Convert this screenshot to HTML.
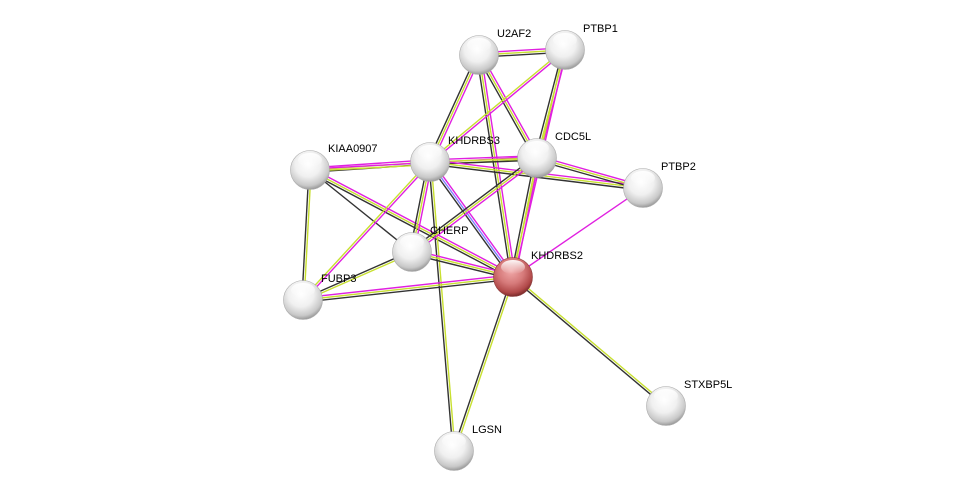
<!DOCTYPE html>
<html><head><meta charset="utf-8"><style>
html,body{margin:0;padding:0;background:#fff;}
svg{display:block;}
text{font-family:"Liberation Sans",sans-serif;font-size:11px;fill:#000;}
</style></head><body>
<svg id="s" width="976" height="496" viewBox="0 0 976 496" xmlns="http://www.w3.org/2000/svg">
<defs>
<radialGradient id="gw" cx="45%" cy="35%" r="65%">
<stop offset="0" stop-color="#ffffff"/><stop offset="0.5" stop-color="#f0f0f0"/><stop offset="0.85" stop-color="#c8c8c8"/><stop offset="1" stop-color="#9a9a9a"/>
</radialGradient>
<radialGradient id="gr" cx="45%" cy="35%" r="65%">
<stop offset="0" stop-color="#f0a8a8"/><stop offset="0.5" stop-color="#d67a7a"/><stop offset="0.85" stop-color="#b04848"/><stop offset="1" stop-color="#7a2a2a"/>
</radialGradient>
<linearGradient id="hl" x1="0" y1="0" x2="0" y2="1">
<stop offset="0" stop-color="#fff" stop-opacity="0.95"/><stop offset="1" stop-color="#fff" stop-opacity="0"/>
</linearGradient>
</defs>
<g id="edges"></g>
<g id="nodes"></g>
</svg>
<script>
var N={U2AF2:[479,55],PTBP1:[565,50],KIAA0907:[310,170],KHDRBS3:[430,162],CDC5L:[537,158],PTBP2:[643,188],CHERP:[412,252],KHDRBS2:[513,277],FUBP3:[303,300],STXBP5L:[666,406],LGSN:[454,451]};
var M="#e020e0",Y="#c8e030",K="#333333",B="#8080ff";
var E=[["U2AF2","PTBP1",[M,Y,K]],["U2AF2","KHDRBS3",[M,Y,K]],["U2AF2","CDC5L",[M,Y,K]],["U2AF2","KHDRBS2",[M,Y,K]],
["PTBP1","KHDRBS3",[M,Y]],["PTBP1","CDC5L",[M,Y,K]],["PTBP1","KHDRBS2",[M,Y]],
["KIAA0907","KHDRBS3",[M,Y,K]],["KIAA0907","CDC5L",[M,Y]],["KIAA0907","KHDRBS2",[M,Y,K]],["KIAA0907","FUBP3",[Y,K]],["KIAA0907","CHERP",[K]],
["KHDRBS3","CDC5L",[M,Y,K]],["KHDRBS3","PTBP2",[M,Y,K]],["KHDRBS3","CHERP",[M,Y,K]],["KHDRBS3","KHDRBS2",[M,B,K]],["KHDRBS3","FUBP3",[M,Y]],["KHDRBS3","LGSN",[Y,K]],
["CDC5L","PTBP2",[M,Y,K]],["CDC5L","CHERP",[M,Y,K]],["CDC5L","KHDRBS2",[M,Y,K]],["PTBP2","KHDRBS2",[M]],
["CHERP","KHDRBS2",[M,Y,K]],["CHERP","FUBP3",[Y,K]],["FUBP3","KHDRBS2",[M,Y,K]],["KHDRBS2","STXBP5L",[Y,K]],["KHDRBS2","LGSN",[Y,K]]];
var ns="http://www.w3.org/2000/svg",eg=document.getElementById("edges"),ng=document.getElementById("nodes");
E.forEach(function(e){var a=N[e[0]],b=N[e[1]],dx=b[0]-a[0],dy=b[1]-a[1],L=Math.hypot(dx,dy),px=-dy/L,py=dx/L,n=e[2].length;
e[2].forEach(function(c,i){var o=(i-(n-1)/2)*2.2;var l=document.createElementNS(ns,"line");
l.setAttribute("x1",a[0]+px*o);l.setAttribute("y1",a[1]+py*o);l.setAttribute("x2",b[0]+px*o);l.setAttribute("y2",b[1]+py*o);
l.setAttribute("stroke",c);l.setAttribute("stroke-width","1.4");eg.appendChild(l);});});
for(var k in N){var p=N[k],c=document.createElementNS(ns,"circle");
c.setAttribute("cx",p[0]);c.setAttribute("cy",p[1]);c.setAttribute("r",19.5);c.setAttribute("fill",k=="KHDRBS2"?"url(#gr)":"url(#gw)");
c.setAttribute("stroke",k=="KHDRBS2"?"#8a3a3a":"#aaa");c.setAttribute("stroke-width","0.6");ng.appendChild(c);
var h=document.createElementNS(ns,"ellipse");h.setAttribute("cx",p[0]);h.setAttribute("cy",p[1]-10);h.setAttribute("rx",12);h.setAttribute("ry",7);h.setAttribute("fill","url(#hl)");ng.appendChild(h);
var t=document.createElementNS(ns,"text");t.setAttribute("x",p[0]+18);t.setAttribute("y",p[1]-18);t.textContent=k;ng.appendChild(t);}
</script>
</body></html>
